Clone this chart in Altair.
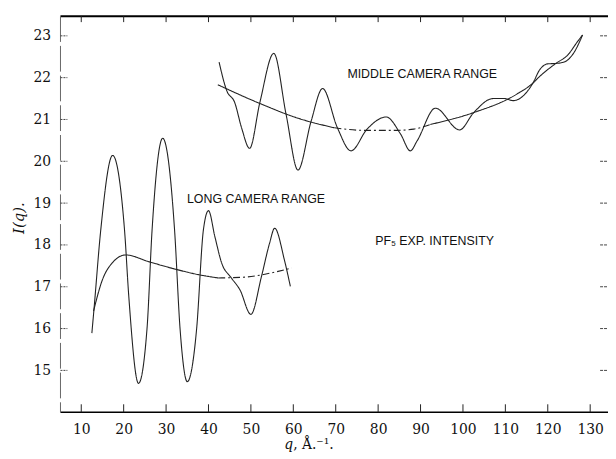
import altair as alt
import pandas as pd

# ---------------- data ----------------
x_ticks = [10, 20, 30, 40, 50, 60, 70, 80, 90, 100, 110, 120, 130]
y_ticks = [15, 16, 17, 18, 19, 20, 21, 22, 23]

# long camera range, experimental intensity
long_q = [12.5, 13.0, 14.6, 17.4, 20.2, 21.2, 23.5, 25.5, 26.7, 29.2, 32.0, 33.3,
          35.0, 37.2, 38.8, 40.0, 41.5, 43.1, 45.4, 47.4, 50.0, 52.5, 54.4, 55.6,
          57.9, 59.3]
long_I = [15.89, 16.46, 18.36, 20.14, 18.36, 16.78, 14.69, 15.99, 18.36, 20.55, 18.36, 15.99,
          14.73, 15.99, 18.36, 18.82, 18.20, 17.57, 17.21, 16.93, 16.34, 17.25, 18.04, 18.40,
          17.64, 17.01]

# long camera range, smooth background
long_bg_q = [12.9, 15.0, 17.3, 20.5, 25.9, 32.2, 37.6, 42.3, 48.6, 53.3, 59.6]
long_bg_I = [16.42, 17.17, 17.57, 17.76, 17.60, 17.42, 17.29, 17.21, 17.23, 17.30, 17.45]

# middle camera range, experimental intensity
mid_q = [42.5, 44.3, 46.2, 47.8, 49.7, 52.1, 55.4, 58.3, 61.1, 64.2, 66.9, 70.4,
         73.6, 77.4, 81.9, 85.3, 87.6, 89.2, 93.5, 99.2, 102.5, 107.1, 109.8, 111.8,
         116.5, 118.1, 120.0, 122.0, 124.0, 126.3, 128.2]
mid_I = [22.37, 21.69, 21.40, 20.80, 20.31, 21.40, 22.58, 21.12, 19.79, 20.96, 21.74, 20.80,
         20.25, 20.77, 21.06, 20.65, 20.25, 20.49, 21.27, 20.75, 21.16, 21.50, 21.50, 21.45,
         21.87, 22.19, 22.33, 22.34, 22.38, 22.62, 23.02]

# middle camera range, smooth background
mid_bg_q = [42.2, 51.7, 61.1, 69.7, 76.7, 84.5, 88.4, 92.3, 102.4, 112.6, 116.5, 118.1,
            121.9, 124.7, 127.0, 128.2]
mid_bg_I = [21.83, 21.40, 21.03, 20.80, 20.74, 20.74, 20.77, 20.88, 21.16, 21.60, 21.87, 22.03,
            22.34, 22.54, 22.86, 23.02]

# annotations (text and data-space anchor)
note_text = ["MIDDLE CAMERA RANGE", "LONG CAMERA RANGE", "PF\u2085 EXP. INTENSITY"]
note_q = [90.4, 51.2, 93.3]
note_I = [22.08, 19.09, 18.09]

# ---------------- build tables ----------------
def segments(name, qs, Is, breaks, styles):
    """Split a curve at the q values in `breaks` (shared end points)."""
    rows = []
    edges = [-1e9] + breaks + [1e9]
    for k in range(len(edges) - 1):
        lo, hi = edges[k], edges[k + 1]
        for q, v in zip(qs, Is):
            if lo <= q <= hi:
                rows.append({"q": q, "I": v, "seg": f"{name}_{k}", "style": styles[k]})
    return rows

rows = []
rows += segments("long", long_q, long_I, [], ["solid"])
rows += segments("mid", mid_q, mid_I, [], ["solid"])
rows += segments("longbg", long_bg_q, long_bg_I, [42.3], ["solid", "dash"])
rows += segments("midbg", mid_bg_q, mid_bg_I, [69.7, 92.3], ["solid", "dash", "solid"])
curves = pd.DataFrame(rows)

notes = pd.DataFrame({"q": note_q, "I": note_I, "text": note_text})
xt = pd.DataFrame({"q": x_ticks})
yt = pd.DataFrame({"I": y_ticks})

W, H = 553, 400
SERIF = "DejaVu Serif"
SANS = "Liberation Sans"

xs = alt.Scale(domain=[5.1, 134.2], nice=False, zero=False)
ys = alt.Scale(domain=[14.0, 23.47], nice=False, zero=False)

x_axis = alt.Axis(values=x_ticks, ticks=False, domain=False, grid=False, title=None,
                  labelFont=SERIF, labelFontSize=14, labelColor="#111", labelPadding=11)
y_axis = alt.Axis(values=y_ticks, ticks=False, domain=False, grid=False, title=None,
                  labelFont=SERIF, labelFontSize=14, labelColor="#111", labelPadding=10)

X = alt.X("q:Q", scale=xs, axis=x_axis)
Y = alt.Y("I:Q", scale=ys, axis=y_axis)

lines = alt.Chart(curves).mark_line(
    interpolate="monotone", color="#222", strokeWidth=1.1, clip=True
).encode(
    x=X, y=Y, detail="seg:N",
    strokeDash=alt.StrokeDash("style:N", legend=None,
                              scale=alt.Scale(domain=["solid", "dash"],
                                              range=[[1, 0], [7, 3, 2, 3]])),
)

note_layer = alt.Chart(notes).mark_text(
    font=SANS, fontSize=12.5, color="#111", align="center", baseline="middle"
).encode(x=X, y=Y, text="text:N")

# frame
one = pd.DataFrame({"a": [0]})
top_line = alt.Chart(one).mark_rule(color="black", strokeWidth=2).encode(
    x=alt.value(0), x2=alt.value(W), y=alt.value(0))
bottom_line = alt.Chart(one).mark_rule(color="black", strokeWidth=1.6).encode(
    x=alt.value(0), x2=alt.value(W), y=alt.value(H))
left_line = alt.Chart(one).mark_rule(color="#666", strokeWidth=1, strokeDash=[26, 4]).encode(
    x=alt.value(0), y=alt.value(0), y2=alt.value(H))

# inward ticks
bottom_ticks = alt.Chart(xt).mark_rule(color="#222", strokeWidth=1).encode(
    x=X, y=alt.value(H), y2=alt.value(H - 8))
top_ticks = alt.Chart(xt).mark_rule(color="#222", strokeWidth=1).encode(
    x=X, y=alt.value(0), y2=alt.value(6))
left_ticks = alt.Chart(yt).mark_rule(color="#444", strokeWidth=1, strokeDash=[2, 1]).encode(
    y=Y, x=alt.value(0), x2=alt.value(7))
right_ticks = alt.Chart(yt).mark_rule(color="#444", strokeWidth=1, strokeDash=[3, 1]).encode(
    y=Y, x=alt.value(W - 8), x2=alt.value(W))

# axis titles
xt_q = alt.Chart(one).mark_text(font=SERIF, fontSize=14, fontStyle="italic", color="#111",
                                align="left", baseline="alphabetic").encode(
    x=alt.value(226), y=alt.value(H + 37), text=alt.value("q"))
xt_rest = alt.Chart(one).mark_text(font=SERIF, fontSize=14, color="#111",
                                   align="left", baseline="alphabetic").encode(
    x=alt.value(235), y=alt.value(H + 37), text=alt.value(", \u00c5.\u207b\u00b9."))
yt_title = alt.Chart(one).mark_text(font=SERIF, fontSize=15, fontStyle="italic", color="#111",
                                    align="center", baseline="middle", angle=270).encode(
    x=alt.value(-42), y=alt.value(204), text=alt.value("I(q)."))

chart = alt.layer(
    lines, note_layer, top_line, bottom_line, left_line,
    bottom_ticks, top_ticks, left_ticks, right_ticks,
    xt_q, xt_rest, yt_title,
).properties(
    width=W, height=H,
    padding={"left": 53, "top": 6, "right": 0, "bottom": 45},
    autosize=alt.AutoSizeParams(type="none"),
    background="white",
).configure_view(stroke=None)

chart.save("out.html", embed_options={"renderer": "svg", "actions": False})
